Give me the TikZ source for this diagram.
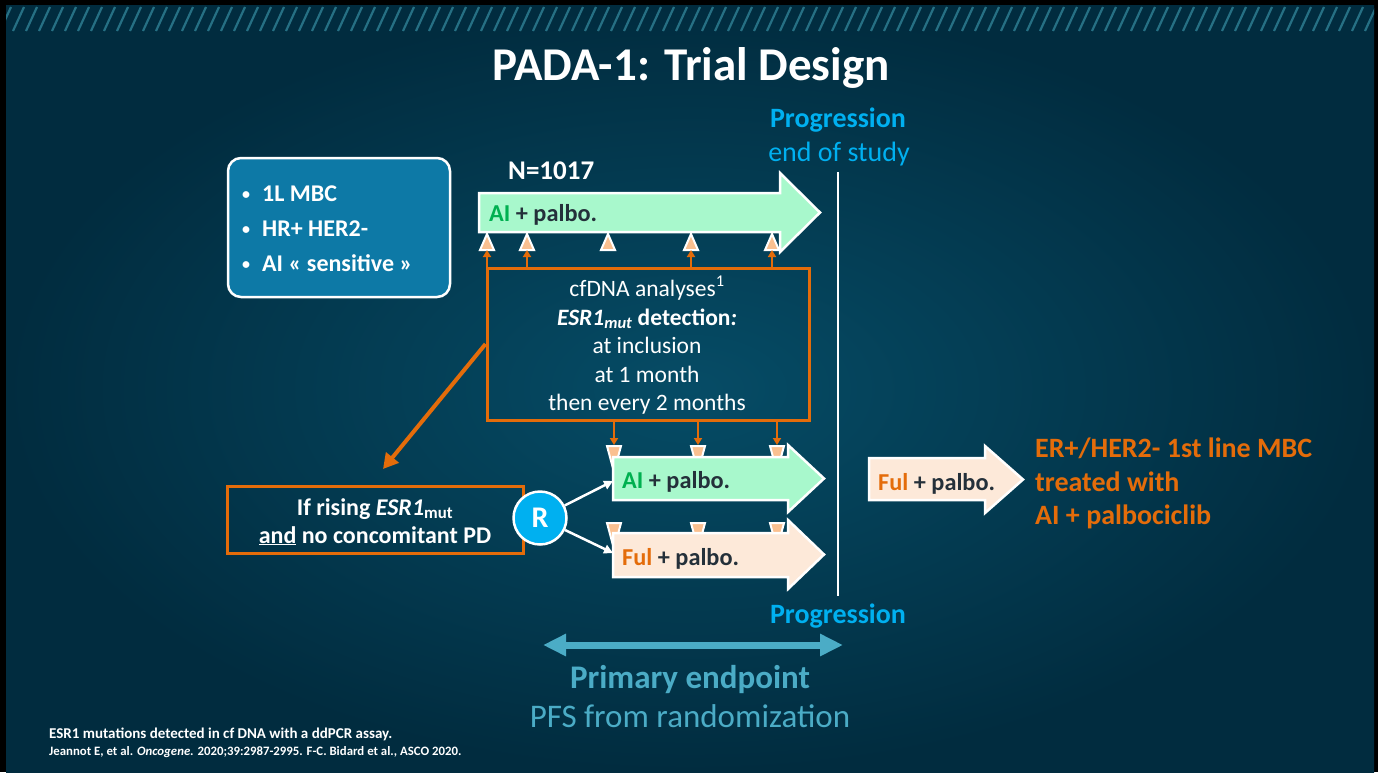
\documentclass[tikz,border=0pt]{standalone}
\usepackage{fontspec}
\setmainfont{Carlito}
\usetikzlibrary{arrows.meta}

\definecolor{bgin}{RGB}{6,76,102}
\definecolor{bgout}{RGB}{1,44,63}
\definecolor{hatch}{RGB}{38,112,132}
\definecolor{critfill}{RGB}{13,121,166}
\definecolor{mint}{RGB}{168,248,204}
\definecolor{peach}{RGB}{253,233,217}
\definecolor{markpeach}{RGB}{250,192,144}
\definecolor{orng}{RGB}{228,108,10}
\definecolor{aigreen}{RGB}{0,176,80}
\definecolor{darktext}{RGB}{36,48,58}
\definecolor{progblue}{RGB}{0,176,240}
\definecolor{endpoint}{RGB}{75,172,198}

\tikzset{
  slidetext/.style={inner sep=0pt, text=white},
  armtext/.style={inner sep=0pt, anchor=base west, text=darktext,
    font=\fontsize{24.3}{28}\selectfont\bfseries},
  armshape/.style={draw=white, line width=2.5pt, line join=miter},
  mintarm/.style={armshape, fill=mint},
  peacharm/.style={armshape, fill=peach},
  samplemark/.style={fill=markpeach, draw=white, line width=2pt, line join=miter},
  probe/.style={draw=orng, line width=2.5pt, -{Triangle[length=7pt,width=8pt]}},
  orangebox/.style={draw=orng, line width=3pt, inner sep=0pt},
  rndarrow/.style={draw=white, line width=2.5pt, -{Triangle[length=9pt,width=9pt]}},
  markup/.pic={\path[samplemark] (-7,8) -- (0,-8) -- (7,8) -- cycle;},
  markdown/.pic={\path[samplemark] (-7,0) -- (7,0) -- (0,26) -- cycle;},
}

\begin{document}
\begin{tikzpicture}[x=1pt,y=-1pt]
\useasboundingbox (0,0) rectangle (1378,772);

% frame and slide background
\fill[black] (0,0) rectangle (1378,772);
\shade[inner color=bgin, outer color=bgout] (6,5) rectangle (1374,772);
\begin{scope}
  \clip (6,5) rectangle (1374,31);
  \foreach \x in {0,13,...,1390}
    \draw[hatch, line width=2.2pt] (\x,31) -- (\x+11,7);
\end{scope}

% title
\node[slidetext, anchor=base, font=\fontsize{47}{50}\selectfont\bfseries] (title) at (691,80) {PADA-1: Trial Design};

% inclusion criteria
\node[draw=white, line width=2.5pt, fill=critfill, rounded corners=13pt,
      minimum width=222pt, minimum height=139pt, inner sep=0pt] (crit) at (339,227.5) {};
\foreach \yy/\t [count=\i] in {201/1L MBC, 236/HR+ HER2-, 271/AI « sensitive »} {
  \node[slidetext, anchor=base, font=\fontsize{16}{20}\selectfont\bfseries] (bul\i) at (246,\yy-2) {•};
  \node[slidetext, anchor=base west, font=\fontsize{24}{28}\selectfont\bfseries] (crit\i) at (262,\yy) {\t};
}

% N
\node[slidetext, anchor=base west, font=\fontsize{27}{30}\selectfont\bfseries] (n) at (508,179) {N=1017};

% first-line arm
\path[mintarm] (479,193) -- (780,193) -- (780,173) -- (820,212.5) -- (780,252) -- (780,232) -- (479,232) -- cycle;
\node[armtext] (armA) at (489,221) {\textcolor{aigreen}{AI} + palbo.};

% sampling time points on first-line arm
\foreach \x [count=\i] in {487,527,608,691,772} {
  \pic at (\x,242) {markup};
  \coordinate (t\i) at (\x,250);
}

% cfDNA monitoring box
\node[orangebox, minimum width=322pt, minimum height=152pt] (cfdna) at (648,344) {};
\begin{scope}[every node/.style={slidetext, anchor=base, font=\fontsize{23.5}{28}\selectfont}]
  \node (c1) at (647,296) {cfDNA analyses\textsuperscript{1}};
  \node (c2) at (647,325) {\bfseries\itshape ESR1\textsubscript{mut}\upshape{} detection\itshape :};
  \node (c3) at (647,353) {at inclusion};
  \node (c4) at (647,382) {at 1 month};
  \node (c5) at (647,410) {then every 2 months};
\end{scope}
\foreach \i in {1,2,4,5}
  \draw[probe] (cfdna.north -| t\i) -- (t\i);

% sampling marks on randomized arms (partly covered by the arms)
\foreach \x [count=\i] in {614,698,777} {
  \pic at (\x,446) {markdown};
  \pic at (\x,523) {markdown};
  \coordinate (b\i) at (\x,445);
}
\path[mintarm] (613,457) -- (788,457) -- (788,445) -- (824,478.5) -- (788,512) -- (788,500) -- (613,500) -- cycle;
\path[peacharm] (613,533) -- (788,533) -- (788,520) -- (824,554.5) -- (788,589) -- (788,577) -- (613,577) -- cycle;
\coordinate (armBtail) at (613,481);
\coordinate (armCtail) at (613,553);
\node[armtext] (armB) at (622,488) {\textcolor{aigreen}{AI} + palbo.};
\node[armtext] (armC) at (622,565) {\textcolor{orng}{Ful} + palbo.};
\foreach \i in {1,2,3}
  \draw[probe] (cfdna.south -| b\i) -- (b\i);

% progression line
\coordinate (pTop) at (838,172);
\coordinate (pBot) at (838,596);
\draw[white, line width=2pt] (pTop) -- (pBot);
\node[anchor=base, inner sep=0pt, text=progblue, font=\fontsize{28}{32}\selectfont\bfseries] (prog1) at (838,127) {Progression};
\node[anchor=base, inner sep=0pt, text=progblue, font=\fontsize{28}{32}\selectfont] (eos) at (839,161) {end of study};
\node[anchor=base, inner sep=0pt, text=progblue, font=\fontsize{28}{32}\selectfont\bfseries] (prog2) at (838,623) {Progression};

% switch criterion
\coordinate (rise) at (383,469);
\draw[orng, line width=4pt, -{Triangle[length=15pt,width=16pt]}] (cfdna.west) -- (rise);
\node[orangebox, minimum width=296pt, minimum height=67pt] (switch) at (375,519.5) {};
\node[slidetext, anchor=base, font=\fontsize{24}{28}\selectfont\bfseries] (sw1) at (375,515) {If rising \textit{ESR1}\textsubscript{mut}};
\node[slidetext, anchor=base, font=\fontsize{24}{28}\selectfont\bfseries] (sw2) at (375,543) {\underline{and} no concomitant PD};

% randomization
\node[circle, fill=progblue, draw=white, line width=2.5pt, minimum size=53pt, inner sep=0pt,
      text=white, font=\fontsize{30}{30}\selectfont\bfseries] (R) at (540,518) {R};
\draw[rndarrow] (R) -- (armBtail);
\draw[rndarrow] (R) -- (armCtail);

% prior-treatment arm
\path[peacharm] (869,458) -- (985,458) -- (985,446) -- (1023,479.5) -- (985,513) -- (985,500) -- (869,500) -- cycle;
\node[armtext] (armD) at (878,490) {\textcolor{orng}{Ful} + palbo.};
\begin{scope}[every node/.style={anchor=base west, inner sep=0pt, text=orng, font=\fontsize{28}{32}\selectfont\bfseries}]
  \node (pop1) at (1035,457) {ER+/HER2- 1st line MBC};
  \node (pop2) at (1035,491) {treated with};
  \node (pop3) at (1035,524) {AI + palbociclib};
\end{scope}

% primary endpoint
\coordinate (ep1) at (543,645);
\coordinate (ep2) at (843,645);
\draw[endpoint, line width=7pt, {Triangle[length=23pt,width=21pt]}-{Triangle[length=23pt,width=21pt]}] (ep1) -- (ep2);
\node[anchor=base, inner sep=0pt, text=endpoint, font=\fontsize{33}{36}\selectfont\bfseries] (ep) at (690,688) {Primary endpoint};
\node[anchor=base, inner sep=0pt, text=endpoint, font=\fontsize{33}{36}\selectfont] (pfs) at (690,727) {PFS from randomization};

% references
\node[slidetext, anchor=base west, font=\fontsize{15}{18}\selectfont\bfseries] (ref1) at (49,738) {ESR1 mutations detected in cf DNA with a ddPCR assay.};
\node[slidetext, anchor=base west, font=\fontsize{12.8}{15}\selectfont\bfseries] (ref2) at (49,755) {Jeannot E, et al. \textit{Oncogene.} 2020;39:2987-2995. F-C. Bidard et al., ASCO 2020.};
\end{tikzpicture}
\end{document}
